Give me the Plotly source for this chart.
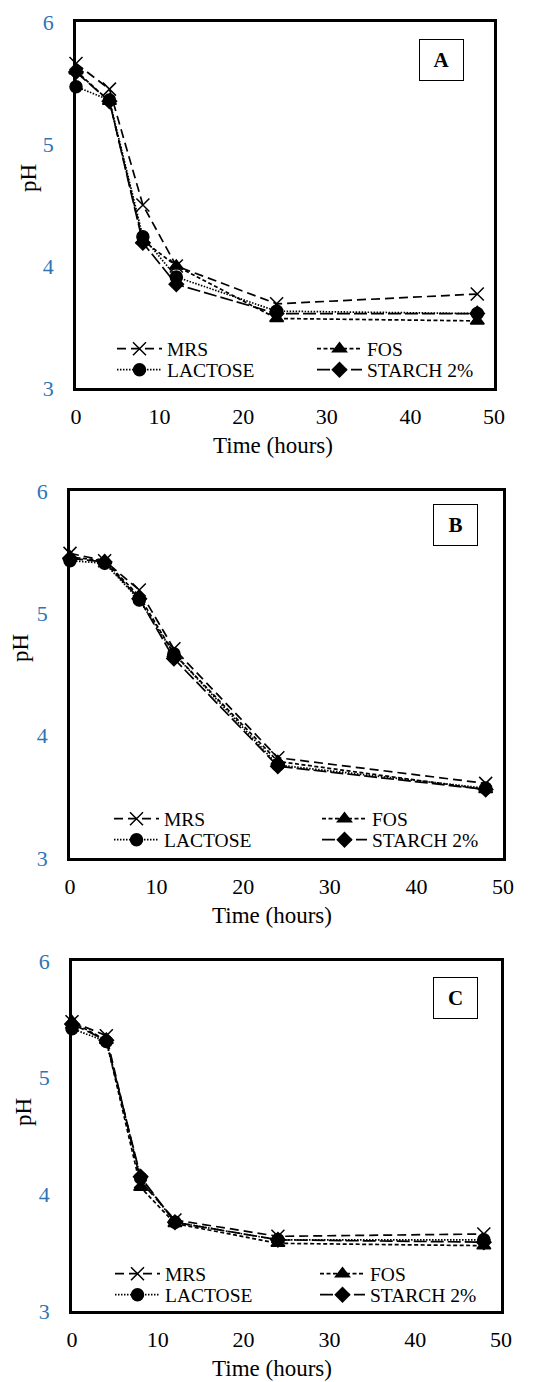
import plotly.graph_objects as go

W, H = 559, 1382

time_h = [0, 4, 8, 12, 24, 48]
series_names = ["MRS", "FOS", "LACTOSE", "STARCH 2%"]

# Panel A
A_MRS = [5.66, 5.45, 4.50, 4.00, 3.69, 3.77]
A_FOS = [5.60, 5.35, 4.21, 4.00, 3.57, 3.55]
A_LAC = [5.47, 5.36, 4.24, 3.91, 3.63, 3.61]
A_STA = [5.59, 5.35, 4.19, 3.85, 3.61, 3.61]
# Panel B
B_MRS = [5.49, 5.43, 5.19, 4.71, 3.82, 3.61]
B_FOS = [5.46, 5.43, 5.14, 4.67, 3.79, 3.56]
B_LAC = [5.43, 5.41, 5.11, 4.67, 3.76, 3.57]
B_STA = [5.45, 5.42, 5.12, 4.63, 3.75, 3.56]
# Panel C
C_MRS = [5.48, 5.36, 4.11, 3.78, 3.64, 3.66]
C_FOS = [5.48, 5.32, 4.06, 3.75, 3.58, 3.56]
C_LAC = [5.42, 5.31, 4.14, 3.76, 3.61, 3.61]
C_STA = [5.46, 5.32, 4.15, 3.76, 3.61, 3.59]

panel_labels = ["A", "B", "C"]
panel_data = [
    [A_MRS, A_FOS, A_LAC, A_STA],
    [B_MRS, B_FOS, B_LAC, B_STA],
    [C_MRS, C_FOS, C_LAC, C_STA],
]

x_ticks = [0, 10, 20, 30, 40, 50]
y_ticks = [3, 4, 5, 6]
x_title = "Time (hours)"
y_title = "pH"

# layout geometry in pixels
boxes = [(76, 494, 22, 388), (70, 503, 491, 858), (72, 501, 961, 1311)]  # l, r, t, b
letter_boxes = [(441, 60), (455, 525), (455, 998)]
ytitle_pos = [(29, 178), (21, 648), (23, 1112)]
xtitle_pos = [(273, 445), (272, 915), (272, 1368)]
legend_rows = [(349, 370), (819, 840), (1274, 1295)]
legend_x = [112, 109, 110]
legend_entry_w = [140, 148, 145]

styles = [
    dict(dash="9px,5px", symbol="x-thin-open", size=13),
    dict(dash="4px,2.5px", symbol="triangle-up", size=12),
    dict(dash="1.5px,1.5px", symbol="circle", size=12),
    dict(dash="13px,4px", symbol="diamond", size=11),
]

FONT = "Liberation Serif, Times New Roman, serif"
fig = go.Figure()

for i, (label, data) in enumerate(zip(panel_labels, panel_data)):
    sfx = "" if i == 0 else str(i + 1)
    xa = "x" + sfx
    ya = "y" + sfx
    lg_top = "legend" + ("" if i == 0 else str(2 * i + 1))
    lg_bot = "legend" + str(2 * i + 2)
    for j, (name, vals, st) in enumerate(zip(series_names, data, styles)):
        fig.add_trace(go.Scatter(
            x=time_h, y=vals, name=name, mode="lines+markers",
            xaxis=xa, yaxis=ya, legend=lg_top if j < 2 else lg_bot,
            cliponaxis=False,
            line=dict(color="black", width=1.7, dash=st["dash"]),
            marker=dict(symbol=st["symbol"], size=st["size"], color="black",
                        line=dict(color="black", width=1.5)),
        ))
    l, r, t, b = boxes[i]
    fig.layout["xaxis" + sfx] = dict(
        domain=[l / W, r / W], range=[0, 50], tickvals=x_ticks, anchor=ya,
        showline=True, mirror=True, linecolor="black", linewidth=2.5,
        showgrid=False, zeroline=False, ticks="", ticklabelstandoff=7,
        tickfont=dict(family=FONT, size=22, color="black"),
        automargin=False,
    )
    fig.layout["yaxis" + sfx] = dict(
        domain=[1 - b / H, 1 - t / H], range=[3, 6], tickvals=y_ticks, anchor=xa,
        showline=True, mirror=True, linecolor="black", linewidth=2.5,
        showgrid=False, zeroline=False, ticks="", ticklabelstandoff=15,
        tickfont=dict(family=FONT, size=22, color="#2E75B6"),
        automargin=False,
    )
    for lg, yc in ((lg_top, legend_rows[i][0]), (lg_bot, legend_rows[i][1])):
        fig.layout[lg] = dict(
            orientation="h", x=legend_x[i] / W, xanchor="left", y=1 - yc / H, yanchor="middle",
            xref="paper", yref="paper",
            bgcolor="rgba(0,0,0,0)", itemwidth=45, entrywidth=legend_entry_w[i],
            entrywidthmode="pixels",
            font=dict(family=FONT, size=19.5, color="black"),
            itemclick=False, itemdoubleclick=False,
        )
    cx, cy = letter_boxes[i]
    fig.add_annotation(
        x=cx / W, y=1 - cy / H, xref="paper", yref="paper",
        text="<b>%s</b>" % label, showarrow=False,
        font=dict(family=FONT, size=21, color="black"),
        bordercolor="black", borderwidth=1, borderpad=0,
        width=43, height=40, xanchor="center", yanchor="middle", bgcolor="white",
    )
    px, py = ytitle_pos[i]
    fig.add_annotation(
        x=px / W, y=1 - py / H, xref="paper", yref="paper", text=y_title,
        showarrow=False, textangle=-90, xanchor="center", yanchor="middle",
        font=dict(family=FONT, size=23, color="black"),
    )
    tx, ty = xtitle_pos[i]
    fig.add_annotation(
        x=tx / W, y=1 - ty / H, xref="paper", yref="paper", text=x_title,
        showarrow=False, xanchor="center", yanchor="middle",
        font=dict(family=FONT, size=23, color="black"),
    )

fig.update_layout(
    width=W, height=H, template="none",
    margin=dict(l=0, r=0, t=0, b=0),
    paper_bgcolor="white", plot_bgcolor="white",
    showlegend=True,
    font=dict(family=FONT, color="black"),
)

fig.write_html("out.html")
